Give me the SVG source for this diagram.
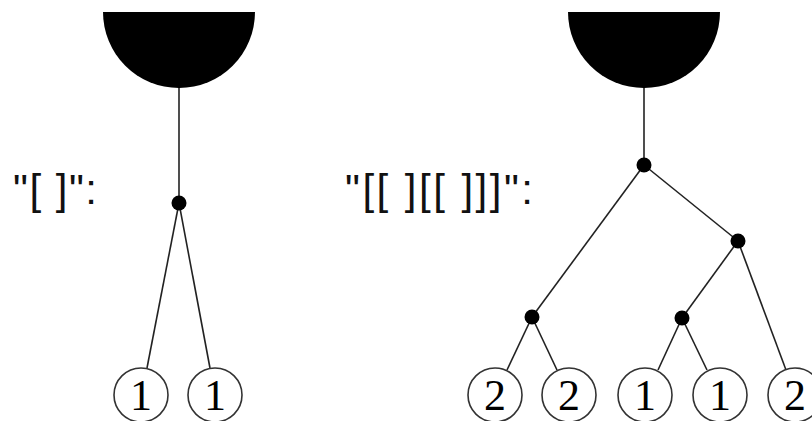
<svg xmlns="http://www.w3.org/2000/svg" width="812" height="421" viewBox="0 0 812 421">
<style>
.bowl{fill:#000}
.dot{fill:#000}
.edge{stroke:#222;stroke-width:1.6;fill:none}
.leaf{fill:#fff;stroke:#333;stroke-width:1.6}
.num{font-family:"Liberation Serif",serif;font-size:44px;fill:#000;text-anchor:middle}
.lbl{font-family:"Liberation Sans",sans-serif;font-size:42px;fill:#111}
</style>
<rect width="812" height="421" fill="#fff"/>
<g id="connectors">
<line class="edge" x1="179" y1="88" x2="179" y2="203"/>
<line class="edge" x1="179" y1="203" x2="147" y2="368"/>
<line class="edge" x1="179" y1="203" x2="210" y2="368"/>
<line class="edge" x1="644" y1="88" x2="644" y2="165"/>
<line class="edge" x1="644" y1="165" x2="738" y2="241"/>
<line class="edge" x1="644" y1="165" x2="532" y2="317"/>
<line class="edge" x1="738" y1="241" x2="682" y2="318"/>
<line class="edge" x1="738" y1="241" x2="786" y2="370"/>
<line class="edge" x1="532" y1="317" x2="507" y2="370"/>
<line class="edge" x1="532" y1="317" x2="557" y2="370"/>
<line class="edge" x1="682" y1="318" x2="658" y2="370"/>
<line class="edge" x1="682" y1="318" x2="707" y2="370"/>
</g>
<g id="root-left"><path class="bowl" d="M103,12 A76,76 0 0 0 255,12 Z"/></g>
<g id="root-right"><path class="bowl" d="M568,12 A76,76 0 0 0 720,12 Z"/></g>
<g id="label-left"><text class="lbl" x="13" y="204" textLength="84">"[ ]":</text></g>
<g id="label-right"><text class="lbl" x="345" y="204" textLength="188">"[[ ][[ ]]]":</text></g>
<g id="dot-l"><circle class="dot" cx="179" cy="203" r="7.5"/></g>
<g id="dot-r1"><circle class="dot" cx="644" cy="165" r="7.5"/></g>
<g id="dot-r2"><circle class="dot" cx="738" cy="241" r="7.5"/></g>
<g id="dot-r3"><circle class="dot" cx="532" cy="317" r="7.5"/></g>
<g id="dot-r4"><circle class="dot" cx="682" cy="318" r="7.5"/></g>
<g id="leaf-l1"><circle class="leaf" cx="141" cy="395" r="27"/><text class="num" x="141" y="410">1</text></g>
<g id="leaf-l2"><circle class="leaf" cx="215" cy="395" r="27"/><text class="num" x="215" y="410">1</text></g>
<g id="leaf-r1"><circle class="leaf" cx="495" cy="395" r="27"/><text class="num" x="495" y="410">2</text></g>
<g id="leaf-r2"><circle class="leaf" cx="569" cy="395" r="27"/><text class="num" x="569" y="410">2</text></g>
<g id="leaf-r3"><circle class="leaf" cx="645" cy="395" r="27"/><text class="num" x="645" y="410">1</text></g>
<g id="leaf-r4"><circle class="leaf" cx="720" cy="395" r="27"/><text class="num" x="720" y="410">1</text></g>
<g id="leaf-r5"><circle class="leaf" cx="795" cy="395" r="27"/><text class="num" x="795" y="410">2</text></g>
</svg>
